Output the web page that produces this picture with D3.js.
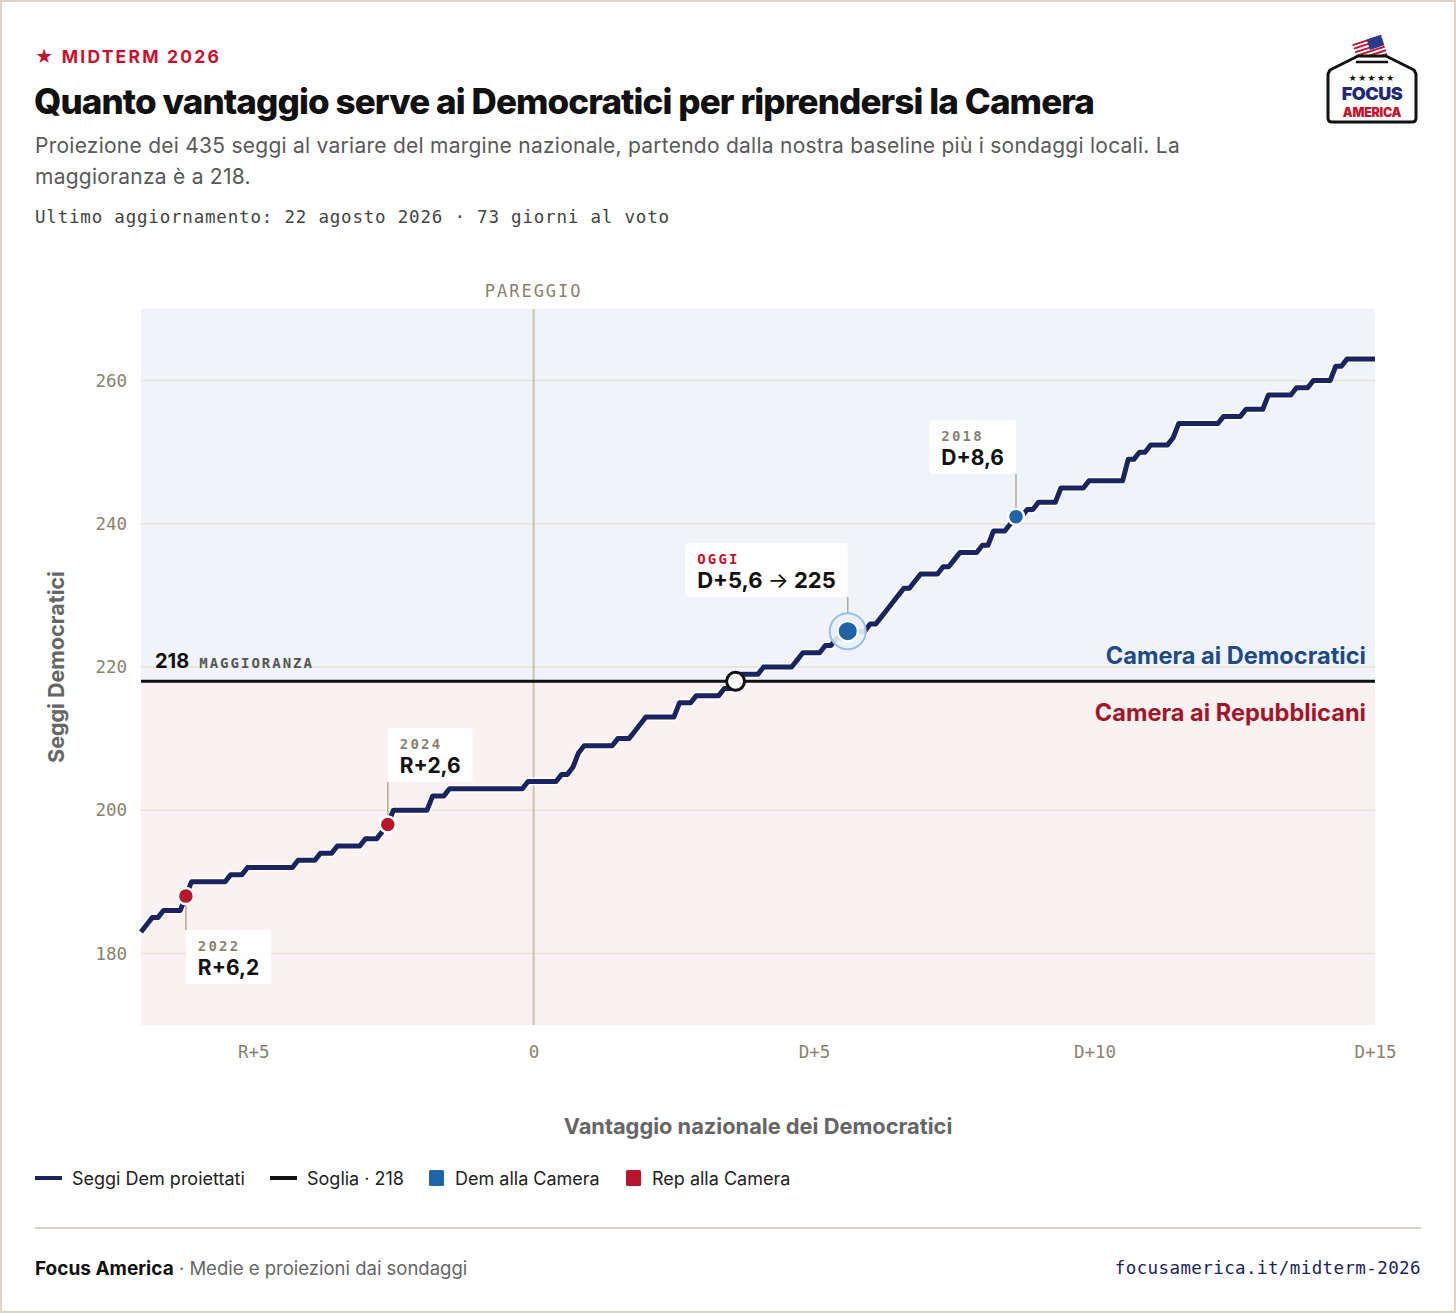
<!DOCTYPE html>
<html>
<head>
<meta charset="utf-8">
<script src="https://cdn.jsdelivr.net/npm/d3@7"></script>
<style>
  body { margin: 0; background: #fff; }
  svg { display: block; }
  .mono { font-family: "DejaVu Sans Mono", "Liberation Mono", monospace; }
  .sans { font-family: Inter, "Noto Sans", sans-serif; }
</style>
</head>
<body>
<svg id="chart"></svg>
<script>
// seat projection as plateaus: margin where a level starts, where it ends, seats
const plateauFrom  = [-7.0,-6.9,-6.8,-6.6,-6.2,-6.1,-5.4,-5.1,-4.2,-3.8,-3.5,-3.0,-2.7,-2.6,-2.5,-1.8,-1.5,-0.1,0.5,0.7,0.8,0.9,1.5,1.8,1.9,2.0,2.6,2.9,3.4,3.6,3.7,4.1,4.7,4.8,5.2,5.4,5.6,6.0,6.2,6.3,6.4,6.5,6.6,6.8,6.9,7.3,7.5,7.6,8.0,8.2,8.5,8.6,8.8,9.0,9.4,9.9,10.6,10.8,11.0,11.4,11.5,12.3,12.7,13.1,13.6,13.9,14.3,14.5];
const plateauTo    = [-7.0,-6.9,-6.7,-6.3,-6.2,-5.5,-5.2,-4.3,-3.9,-3.6,-3.1,-2.8,-2.7,-2.6,-1.9,-1.6,-0.2,0.4,0.6,0.7,0.8,1.4,1.7,1.8,1.9,2.5,2.8,3.3,3.5,3.6,4.0,4.6,4.7,5.1,5.3,5.5,5.9,6.1,6.2,6.3,6.4,6.5,6.7,6.8,7.2,7.4,7.5,7.9,8.1,8.4,8.5,8.7,8.9,9.3,9.8,10.5,10.7,10.9,11.3,11.4,12.2,12.6,13.0,13.5,13.8,14.2,14.4,15.0];
const plateauSeats = [183,184,185,186,188,190,191,192,193,194,195,196,197,198,200,202,203,204,205,206,208,209,210,211,212,213,215,216,217,218,219,220,221,222,223,224,225,226,227,228,229,230,231,232,233,234,235,236,237,239,240,241,242,243,245,246,249,250,251,252,254,255,256,258,259,260,262,263];

const majority = 218;
const tieMargin = 3.6;            // margin where the curve crosses 218
const todayMargin = 5.6;
const todaySeats = 225;

const pastYears   = ["2022", "2024", "2018"];
const pastMargins = [-6.2, -2.6, 8.6];
const pastSeats   = [188, 198, 241];
const pastLabels  = ["R+6,2", "R+2,6", "D+8,6"];

const yTicks = [180, 200, 220, 240, 260];
const xTicks = [-5, 0, 5, 10, 15];

const legendLabels = ["Seggi Dem proiettati", "Soglia · 218", "Dem alla Camera", "Rep alla Camera"];

const W = 1456, H = 1313;
const navy = "#1b2460", demBlue = "#1f63a8", repRed = "#b8172b", red = "#c8102e";
const muted = "#8a8270";

const svg = d3.select("#chart").attr("width", W).attr("height", H);

// frame
svg.append("rect").attr("x", 1).attr("y", 1).attr("width", W - 2).attr("height", H - 2)
  .attr("fill", "#fff").attr("stroke", "#ddd6c8").attr("stroke-width", 2);

// ---- header
svg.append("text").attr("class", "sans").attr("x", 35).attr("y", 63)
  .attr("fill", red).attr("font-size", 17.5).attr("font-weight", 700).attr("letter-spacing", 2.2)
  .text("★ MIDTERM 2026");

svg.append("text").attr("class", "sans").attr("x", 34).attr("y", 114)
  .attr("fill", "#111").attr("font-size", 35).attr("font-weight", 800).attr("letter-spacing", -0.9)
  .text("Quanto vantaggio serve ai Democratici per riprendersi la Camera");

svg.append("text").attr("class", "sans").attr("x", 35).attr("y", 153)
  .attr("fill", "#595959").attr("font-size", 21).attr("letter-spacing", 0.25)
  .text("Proiezione dei 435 seggi al variare del margine nazionale, partendo dalla nostra baseline più i sondaggi locali. La");
svg.append("text").attr("class", "sans").attr("x", 35).attr("y", 184)
  .attr("fill", "#595959").attr("font-size", 21).attr("letter-spacing", 0.25)
  .text("maggioranza è a 218.");

svg.append("text").attr("class", "mono").attr("x", 35).attr("y", 223)
  .attr("fill", "#444").attr("font-size", 17.5).attr("letter-spacing", 0.8)
  .text("Ultimo aggiornamento: 22 agosto 2026 · 73 giorni al voto");

// ---- logo (ballot box)
const logo = svg.append("g").attr("transform", "translate(1372,90)");
const flag = logo.append("g").attr("transform", "translate(-2,-40) rotate(-18)");
flag.append("rect").attr("x", -15).attr("y", -11).attr("width", 30).attr("height", 22).attr("fill", "#fff");
d3.range(6).forEach(i => flag.append("rect").attr("x", -15).attr("y", -11 + i * 3.8)
  .attr("width", 30).attr("height", 1.9).attr("fill", red));
flag.append("rect").attr("x", 0).attr("y", -11).attr("width", 15).attr("height", 11).attr("fill", "#2b3a8c");
logo.append("path")
  .attr("d", "M-42,-20 L-14,-34 L14,-34 L42,-20 L44,-16 L44,28 Q44,32 40,32 L-40,32 Q-44,32 -44,28 L-44,-16 Z")
  .attr("fill", "#fff").attr("stroke", "#111").attr("stroke-width", 3).attr("stroke-linejoin", "round");
logo.append("line").attr("x1", -16).attr("x2", 16).attr("y1", -28).attr("y2", -28)
  .attr("stroke", "#111").attr("stroke-width", 2.5);
logo.append("text").attr("class", "sans").attr("text-anchor", "middle").attr("y", -9)
  .attr("font-size", 8).attr("fill", "#111").attr("letter-spacing", 1).text("★★★★★");
logo.append("text").attr("class", "sans").attr("text-anchor", "middle").attr("y", 10)
  .attr("font-size", 18).attr("font-weight", 900).attr("fill", "#1e2a78").attr("letter-spacing", -0.5).text("FOCUS");
logo.append("text").attr("class", "sans").attr("text-anchor", "middle").attr("y", 27)
  .attr("font-size", 12.5).attr("font-weight", 900).attr("fill", red).attr("letter-spacing", -0.3).text("AMERICA");

// ---- plot
const plot = { left: 141, right: 1375, top: 309, bottom: 1025 };
const x = d3.scaleLinear().domain([-7, 15]).range([plot.left, plot.right]);
const y = d3.scaleLinear().domain([170, 270]).range([plot.bottom, plot.top]);

// background zones
svg.append("rect").attr("x", plot.left).attr("y", plot.top)
  .attr("width", plot.right - plot.left).attr("height", y(majority) - plot.top).attr("fill", "#f0f4fa");
svg.append("rect").attr("x", plot.left).attr("y", y(majority))
  .attr("width", plot.right - plot.left).attr("height", plot.bottom - y(majority)).attr("fill", "#faf1f2");

// gridlines
svg.append("g").selectAll("line").data(yTicks).join("line")
  .attr("x1", plot.left).attr("x2", plot.right)
  .attr("y1", d => y(d)).attr("y2", d => y(d))
  .attr("stroke", "#e9e2d3").attr("stroke-width", 1.5);

// tie line
svg.append("line").attr("x1", x(0)).attr("x2", x(0)).attr("y1", plot.top).attr("y2", plot.bottom)
  .attr("stroke", "#c9c0ae").attr("stroke-width", 2);
svg.append("text").attr("class", "mono").attr("x", x(0)).attr("y", 297).attr("text-anchor", "middle")
  .attr("fill", muted).attr("font-size", 17).attr("letter-spacing", 2).text("PAREGGIO");

// axes
const yAxis = svg.append("g").attr("transform", `translate(${plot.left},0)`)
  .call(d3.axisLeft(y).tickValues(yTicks).tickSize(0).tickPadding(14));
const xAxis = svg.append("g").attr("transform", `translate(0,${plot.bottom})`)
  .call(d3.axisBottom(x).tickValues(xTicks).tickSize(0).tickPadding(21)
    .tickFormat(d => d < 0 ? "R+" + (-d) : d > 0 ? "D+" + d : "0"));
[yAxis, xAxis].forEach(a => {
  a.select(".domain").remove();
  a.selectAll("text").attr("class", "mono").attr("fill", muted).attr("font-size", 17.5);
});

svg.append("text").attr("class", "sans")
  .attr("transform", `translate(64,${(plot.top + plot.bottom) / 2}) rotate(-90)`)
  .attr("text-anchor", "middle").attr("fill", "#666").attr("font-size", 21.5).attr("font-weight", 700)
  .text("Seggi Democratici");
svg.append("text").attr("class", "sans").attr("x", 758).attr("y", 1134)
  .attr("text-anchor", "middle").attr("fill", "#666").attr("font-size", 21.8).attr("font-weight", 700)
  .text("Vantaggio nazionale dei Democratici");

// majority line + labels
svg.append("line").attr("x1", plot.left).attr("x2", plot.right)
  .attr("y1", y(majority)).attr("y2", y(majority)).attr("stroke", "#111").attr("stroke-width", 3);
const majLbl = svg.append("text").attr("x", 155).attr("y", 668);
majLbl.append("tspan").attr("class", "sans").attr("font-size", 20).attr("font-weight", 700)
  .attr("fill", "#111").text("218");
majLbl.append("tspan").attr("class", "mono").attr("dx", 10).attr("font-size", 14).attr("font-weight", 700)
  .attr("letter-spacing", 2).attr("fill", "#555").text("MAGGIORANZA");

svg.append("text").attr("class", "sans").attr("x", 1366).attr("y", 664).attr("text-anchor", "end")
  .attr("fill", "#1d4a88").attr("font-size", 23.6).attr("font-weight", 700).text("Camera ai Democratici");
svg.append("text").attr("class", "sans").attr("x", 1366).attr("y", 721).attr("text-anchor", "end")
  .attr("fill", "#a3162a").attr("font-size", 23.6).attr("font-weight", 700).text("Camera ai Repubblicani");

// projection curve
const vertices = plateauFrom.flatMap((f, i) => f === plateauTo[i]
  ? [[f, plateauSeats[i]]]
  : [[f, plateauSeats[i]], [plateauTo[i], plateauSeats[i]]]);
const line = d3.line().x(d => x(d[0])).y(d => y(d[1]));
svg.append("path").datum(vertices).attr("d", line).attr("fill", "none")
  .attr("stroke", "#fff").attr("stroke-opacity", 0.8).attr("stroke-width", 8).attr("stroke-linejoin", "round");
svg.append("path").datum(vertices).attr("d", line).attr("fill", "none")
  .attr("stroke", navy).attr("stroke-width", 5).attr("stroke-linejoin", "round");

// annotation helper: box with a small caption and a big label, plus a leader line
function callout(px, lineEnd, side, top, yearText, yearColor, label, labelSize) {
  const g = svg.append("g");
  const t = g.append("text").attr("class", "sans").attr("font-size", labelSize).attr("font-weight", 700)
    .attr("fill", "#111");
  label.forEach((part, k) => t.append("tspan").attr("font-weight", k === 1 ? 400 : 700).text(part));
  const tw = t.node().getComputedTextLength();
  const pad = 12;
  const bw = Math.max(tw + pad * 2, 80), bh = 54;
  const bx = side === "right" ? px : px - bw;
  g.insert("rect", "text").attr("x", bx).attr("y", top).attr("width", bw).attr("height", bh)
    .attr("rx", 3).attr("fill", "#fff").attr("fill-opacity", 0.9);
  g.append("text").attr("class", "mono").attr("x", bx + pad).attr("y", top + 21)
    .attr("font-size", 14).attr("font-weight", 700).attr("letter-spacing", 2.2).attr("fill", yearColor).text(yearText);
  t.attr("x", bx + pad).attr("y", top + 45);
  const edge = lineEnd > top ? top + bh : top;
  svg.append("line").attr("x1", px).attr("x2", px).attr("y1", edge).attr("y2", lineEnd)
    .attr("stroke", "#b3aa95").attr("stroke-width", 1.5);
}

// past elections
const boxTops = [930, 728, 420];
const boxSides = ["right", "right", "left"];
pastYears.forEach((yr, i) => {
  const px = x(pastMargins[i]), py = y(pastSeats[i]);
  const lineEnd = boxTops[i] > py ? py + 8 : py - 8;
  callout(px, lineEnd, boxSides[i], boxTops[i], yr, muted, [pastLabels[i]], 21);
});
svg.append("g").selectAll("circle").data(pastYears).join("circle")
  .attr("cx", (d, i) => x(pastMargins[i])).attr("cy", (d, i) => y(pastSeats[i])).attr("r", 8)
  .attr("fill", (d, i) => pastMargins[i] < 0 ? repRed : demBlue)
  .attr("stroke", "#fff").attr("stroke-width", 2.5);

// today
callout(x(todayMargin), y(todaySeats) - 18, "left", 543, "OGGI", red,
  [`D+${String(todayMargin).replace(".", ",")} `, "→", ` ${todaySeats}`], 22);
svg.append("circle").attr("cx", x(todayMargin)).attr("cy", y(todaySeats)).attr("r", 18)
  .attr("fill", "#eaf1f9").attr("fill-opacity", 0.9).attr("stroke", "#9dbfe2").attr("stroke-width", 2);
svg.append("circle").attr("cx", x(todayMargin)).attr("cy", y(todaySeats)).attr("r", 10)
  .attr("fill", demBlue).attr("stroke", "#fff").attr("stroke-width", 2);

// majority crossing
svg.append("circle").attr("cx", x(tieMargin)).attr("cy", y(majority)).attr("r", 9)
  .attr("fill", "#fff").attr("stroke", "#111").attr("stroke-width", 3);

// ---- legend
const legendX = [35, 270, 429, 626];
const legend = svg.append("g").selectAll("g").data(legendLabels).join("g")
  .attr("transform", (d, i) => `translate(${legendX[i]},1178)`);
legend.each(function (d, i) {
  const g = d3.select(this);
  if (i < 2) {
    g.append("rect").attr("x", 0).attr("y", -2).attr("width", 27).attr("height", 4)
      .attr("fill", i === 0 ? navy : "#111");
  } else {
    g.append("rect").attr("x", 0).attr("y", -8).attr("width", 15).attr("height", 16).attr("rx", 1.5)
      .attr("fill", i === 2 ? demBlue : repRed);
  }
  g.append("text").attr("class", "sans").attr("x", i < 2 ? 37 : 26).attr("y", 7)
    .attr("font-size", 18).attr("fill", "#222").text(d);
});

// ---- footer
svg.append("line").attr("x1", 35).attr("x2", 1421).attr("y1", 1228).attr("y2", 1228)
  .attr("stroke", "#d9d3c5").attr("stroke-width", 2);
const foot = svg.append("text").attr("class", "sans").attr("x", 35).attr("y", 1275).attr("font-size", 19);
foot.append("tspan").attr("font-weight", 700).attr("fill", "#111").text("Focus America");
foot.append("tspan").attr("fill", "#666").attr("font-size", 18.5).text(" · Medie e proiezioni dai sondaggi");
svg.append("text").attr("class", "mono").attr("x", 1421).attr("y", 1274).attr("text-anchor", "end")
  .attr("font-size", 17.5).attr("letter-spacing", 0.4).attr("fill", navy).text("focusamerica.it/midterm-2026");
</script>
</body>
</html>
